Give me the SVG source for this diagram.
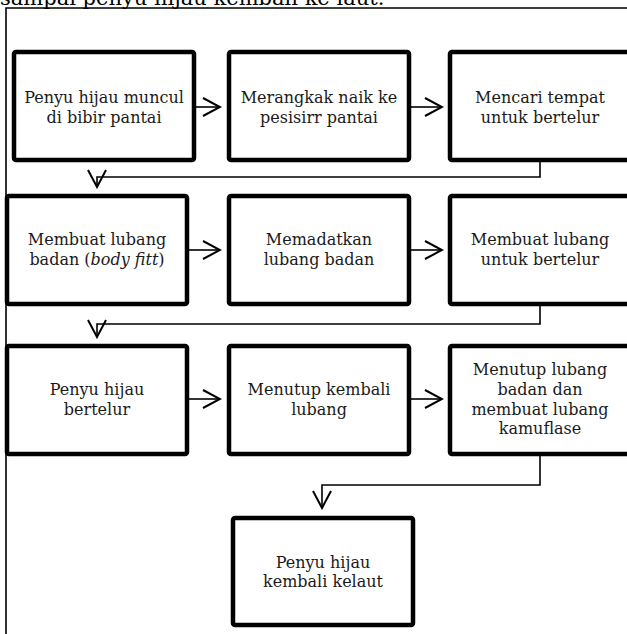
<svg xmlns="http://www.w3.org/2000/svg" width="627" height="634" viewBox="0 0 627 634">
<style>
.box{fill:#fff;stroke:#000;stroke-width:4.5}
.t{font-family:"DejaVu Serif","Liberation Serif",serif;font-size:16px;fill:#1a1a1a;text-anchor:middle}
.c{fill:none;stroke:#000;stroke-width:1.6}
.frame{fill:none;stroke:#000;stroke-width:1.6}
</style>
<defs>
<marker id="ah" viewBox="0 0 20 20" refX="18" refY="10" markerWidth="20" markerHeight="20" markerUnits="userSpaceOnUse" orient="auto">
<path d="M1,1 L18,10 L1,19" fill="none" stroke="#000" stroke-width="2"/>
</marker>
</defs>
<rect width="627" height="634" fill="#fff"/>
<text x="0" y="5" font-family="DejaVu Serif, serif" font-size="21" fill="#000">sampai penyu hijau kembali ke laut.</text>
<path class="frame" d="M6,634 V8 H627"/>
<g id="n1"><rect class="box" x="14" y="52" width="180" height="108" rx="2"/><text class="t" x="104" y="103">Penyu hijau muncul</text><text class="t" x="104" y="123">di bibir pantai</text></g>
<g id="n2"><rect class="box" x="229" y="52" width="180" height="108" rx="2"/><text class="t" x="319" y="103">Merangkak naik ke</text><text class="t" x="319" y="123">pesisirr pantai</text></g>
<g id="n3"><rect class="box" x="450" y="52" width="180" height="108" rx="2"/><text class="t" x="540" y="103">Mencari tempat</text><text class="t" x="540" y="123">untuk bertelur</text></g>
<g id="n4"><rect class="box" x="7" y="196" width="180" height="108" rx="2"/><text class="t" x="97" y="245">Membuat lubang</text><text class="t" x="97" y="265">badan (<tspan font-style="italic">body fitt</tspan>)</text></g>
<g id="n5"><rect class="box" x="229" y="196" width="180" height="108" rx="2"/><text class="t" x="319" y="245">Memadatkan</text><text class="t" x="319" y="265">lubang badan</text></g>
<g id="n6"><rect class="box" x="450" y="196" width="180" height="108" rx="2"/><text class="t" x="540" y="245">Membuat lubang</text><text class="t" x="540" y="265">untuk bertelur</text></g>
<g id="n7"><rect class="box" x="7" y="346" width="180" height="108" rx="2"/><text class="t" x="97" y="395">Penyu hijau</text><text class="t" x="97" y="415">bertelur</text></g>
<g id="n8"><rect class="box" x="229" y="346" width="180" height="108" rx="2"/><text class="t" x="319" y="395">Menutup kembali</text><text class="t" x="319" y="415">lubang</text></g>
<g id="n9"><rect class="box" x="450" y="346" width="180" height="108" rx="2"/><text class="t" x="540" y="375">Menutup lubang</text><text class="t" x="540" y="395">badan dan</text><text class="t" x="540" y="415">membuat lubang</text><text class="t" x="540" y="434">kamuflase</text></g>
<g id="n10"><rect class="box" x="233" y="518" width="180" height="107" rx="2"/><text class="t" x="323" y="568">Penyu hijau</text><text class="t" x="323" y="587">kembali kelaut</text></g>
<g id="connectors">
<path class="c" d="M196,107 H220" marker-end="url(#ah)"/>
<path class="c" d="M411,107 H442" marker-end="url(#ah)"/>
<path class="c" d="M540,162 V177 H97 V187" marker-end="url(#ah)"/>
<path class="c" d="M189,250 H220" marker-end="url(#ah)"/>
<path class="c" d="M411,250 H442" marker-end="url(#ah)"/>
<path class="c" d="M540,306 V324 H97 V337" marker-end="url(#ah)"/>
<path class="c" d="M189,399 H220" marker-end="url(#ah)"/>
<path class="c" d="M411,399 H442" marker-end="url(#ah)"/>
<path class="c" d="M540,456 V485 H322 V508" marker-end="url(#ah)"/>
</g>
</svg>
